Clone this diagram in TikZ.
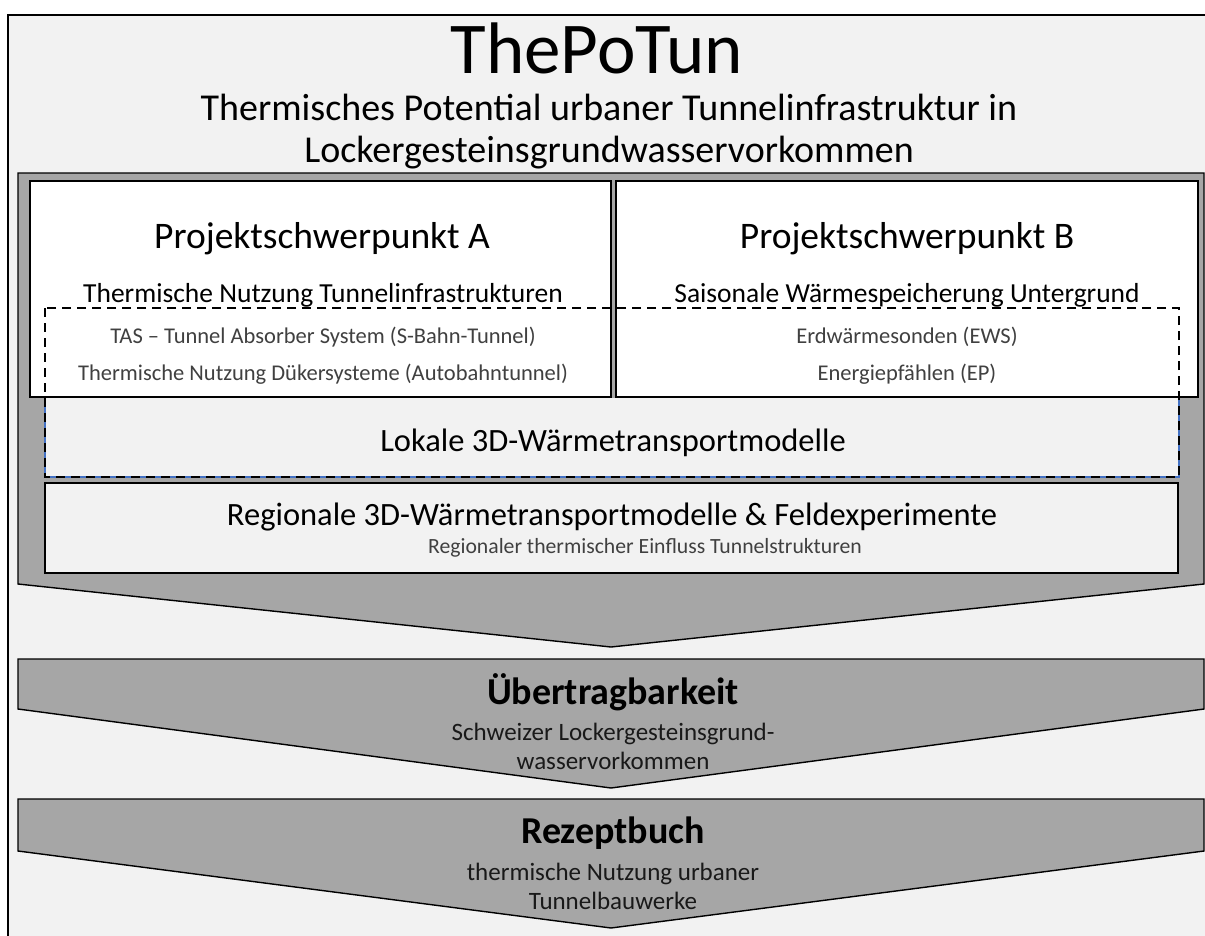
\documentclass[tikz,border=0pt]{standalone}
\usepackage{fontspec}
\setmainfont{Carlito}
\definecolor{bgc}{HTML}{F2F2F2}
\definecolor{chev}{HTML}{A6A6A6}
\definecolor{subtxt}{HTML}{404040}
\definecolor{dashblue}{HTML}{4472C4}
\newcommand{\fs}[1]{\fontsize{#1}{#1}\selectfont}
\begin{document}
\begin{tikzpicture}[x=1pt,y=-1pt,
  frame/.style={draw=black,line width=1.6pt,fill=bgc},
  chevron/.style={draw=black,line width=1.4pt,fill=chev,line join=miter},
  whitebox/.style={draw=black,line width=1.4pt,fill=white},
  greybox/.style={draw=black,line width=1.4pt,fill=bgc},
  txt/.style={anchor=base,inner sep=0pt,text=black},
  small/.style={anchor=base,inner sep=0pt,text=subtxt}]
\useasboundingbox (0,0) rectangle (1205,935);
\clip (0,0) rectangle (1205,935);
\fill[white] (0,0) rectangle (1205,935);
% outer frame
\draw[frame] (8,15) rectangle (1220,950);
% chevrons
\draw[chevron] (18,173) -- (1204,173) -- (1204,584) -- (611,647) -- (18,584) -- cycle;
\draw[chevron] (18,659) -- (1204,659) -- (1204,709) -- (611,788) -- (18,709) -- cycle;
\draw[chevron] (18,799) -- (1204,799) -- (1204,851) -- (611,928) -- (18,851) -- cycle;
% project boxes
\draw[whitebox] (30,181) rectangle (611,397);
\draw[whitebox] (616,181) rectangle (1198,397);
% lokale region
\fill[bgc] (45,398) rectangle (1179,477);
\draw[dashblue,line width=1.4pt] (45,398) -- (45,477) -- (1179,477) -- (1179,398);
% dashed box
\draw[black,line width=1.6pt,dash pattern=on 9pt off 6pt] (45,308) rectangle (1179,477);
% regional box
\draw[greybox] (45,483) rectangle (1178,573);
% texts
\node[txt,font=\fs{73}] (title) at (597,73) {ThePoTun};
\node[txt,font=\fs{38}] (sub1) at (609,120) {Thermisches Potential urbaner Tunnelinfrastruktur in};
\node[txt,font=\fs{38}] (sub2) at (609,162) {Lockergesteinsgrundwasservorkommen};
\node[txt,font=\fs{37.5}] (pa) at (322,248) {Projektschwerpunkt A};
\node[txt,font=\fs{37.5}] (pb) at (907,248) {Projektschwerpunkt B};
\node[txt,font=\fs{27.5}] (sa) at (323,302) {Thermische Nutzung Tunnelinfrastrukturen};
\node[txt,font=\fs{27.5}] (sb) at (907,302) {Saisonale Wärmespeicherung Untergrund};
\node[small,font=\fs{22.5}] (a1) at (323,343) {TAS – Tunnel Absorber System (S-Bahn-Tunnel)};
\node[small,font=\fs{22.5}] (a2) at (323,380) {Thermische Nutzung Dükersysteme (Autobahntunnel)};
\node[small,font=\fs{22.5}] (b1) at (907,343) {Erdwärmesonden (EWS)};
\node[small,font=\fs{22.5}] (b2) at (907,380) {Energiepfählen (EP)};
\node[txt,font=\fs{32.5}] (lok) at (613,451) {Lokale 3D-Wärmetransportmodelle};
\node[txt,font=\fs{32.5}] (reg) at (612,525) {Regionale 3D-Wärmetransportmodelle \& Feldexperimente};
\node[small,font=\fs{21.7}] (reg2) at (645,553) {Regionaler thermischer Einfluss Tunnelstrukturen};
\node[txt,font=\bfseries\fs{38}] (ueb) at (613,704) {Übertragbarkeit};
\node[txt,font=\fs{25},text=black!90] (ueb1) at (613,740) {Schweizer Lockergesteinsgrund-};
\node[txt,font=\fs{25},text=black!90] (ueb2) at (613,769) {wasservorkommen};
\node[txt,font=\bfseries\fs{38}] (rez) at (613,843) {Rezeptbuch};
\node[txt,font=\fs{25},text=black!90] (rez1) at (613,880) {thermische Nutzung urbaner};
\node[txt,font=\fs{25},text=black!90] (rez2) at (613,909) {Tunnelbauwerke};
\end{tikzpicture}
\end{document}
